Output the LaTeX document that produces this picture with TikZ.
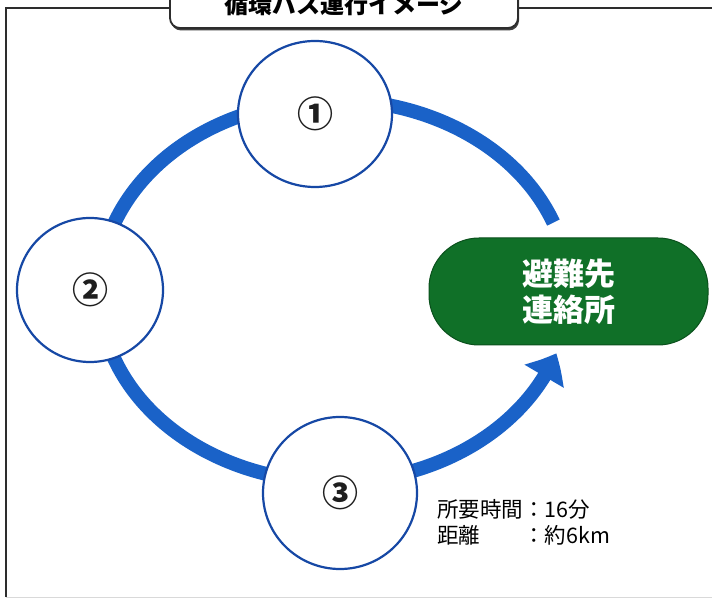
\documentclass[tikz,border=0pt]{standalone}
\usepackage{fontspec}
\setmainfont{Noto Sans CJK JP}
\usetikzlibrary{shapes.geometric,arrows.meta,bending,shadows}
\definecolor{arcblue}{RGB}{26,98,200}
\definecolor{circblue}{RGB}{22,72,165}
\definecolor{boxgreen}{RGB}{16,112,40}
\definecolor{boxgreenedge}{RGB}{10,80,28}
\definecolor{framegray}{RGB}{45,45,45}
\definecolor{numtext}{RGB}{30,30,30}
\begin{document}
\begin{tikzpicture}[x=1pt,y=1pt,
  stopcircle/.style={ellipse, draw=circblue, line width=2.2pt, fill=white, inner sep=0pt,
    font=\bfseries\fontsize{36}{40}\selectfont, text=numtext},
  routearc/.style={draw=arcblue, line width=14pt},
  destbox/.style={rectangle, rounded corners=50pt, fill=boxgreen, draw=boxgreenedge, line width=1pt,
    minimum width=279pt, minimum height=107pt, inner sep=0pt, text=white, align=center,
    font=\bfseries\fontsize{31}{36}\selectfont},
  titlebox/.style={rectangle, rounded corners=10pt, fill=white, draw=framegray, line width=1.8pt,
    minimum width=348pt, minimum height=48pt, inner sep=0pt,
    font=\bfseries\fontsize{24}{28}\selectfont,
    general shadow={shadow xshift=1pt, shadow yshift=-2.5pt, fill=black!75}},
  framerule/.style={draw=framegray, line width=1.8pt},
  infotext/.style={anchor=west, inner sep=0pt, font=\fontsize{21.5}{25}\selectfont, align=left}
]
\useasboundingbox (0,0) rectangle (712,600);
\fill[white] (0,0) rectangle (712,600);
\begin{scope}
\clip (0,0) rectangle (712,600);
% frame
\draw[framerule] (6,3) -- (6,592) -- (712,592);
\draw[black!15, line width=1pt] (6,3) -- (712,3);
% title
\node[titlebox] (title) at (344,596) {\raisebox{-4pt}{循環バス運行イメージ}};
% route arc
\coordinate (arcstart) at (553.4,377.4);
\draw[routearc, -{Triangle[length=26pt, width=44pt, bend]}]
  (arcstart) arc[start angle=21, end angle=341, x radius=235pt, y radius=191pt] coordinate (arcend);
% stops
\node[stopcircle, minimum width=154pt, minimum height=146pt] (c1) at (315,486) {①};
\node[stopcircle, minimum width=146pt, minimum height=144pt] (c2) at (90,310) {②};
\node[stopcircle, minimum width=154pt, minimum height=152pt] (c3) at (340,107) {③};
% destination
\node[destbox] (dest) at (568.5,308.5) {避難先\\連絡所};
% info
\node[infotext] (info) at (437,75) {\begin{tabular}{@{}l@{}l@{}}所要時間&：16分\\距離&：約6km\end{tabular}};
\end{scope}
\end{tikzpicture}
\end{document}
